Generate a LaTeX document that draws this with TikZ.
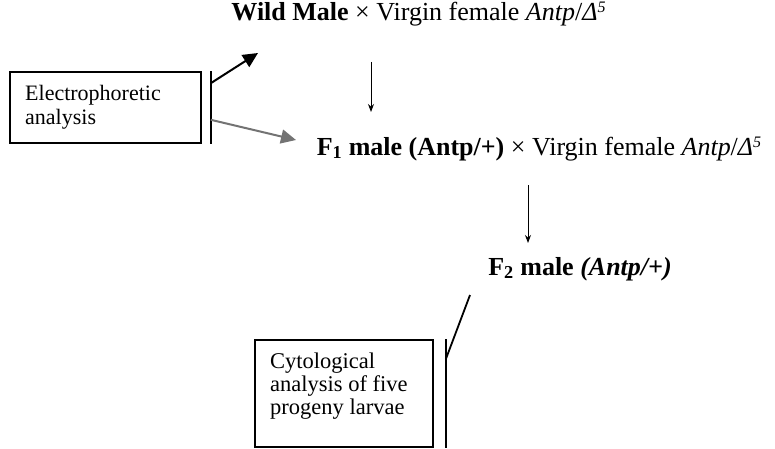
\documentclass[tikz,border=0pt]{standalone}
\usepackage{fontspec}
\setmainfont{Liberation Serif}
\usetikzlibrary{arrows.meta}
\tikzset{
  cross/.style   ={anchor=base, inner sep=0pt, font=\fontsize{26}{30}\selectfont},
  notebox/.style ={draw, line width=1.6pt, inner sep=0pt},
  notetext/.style={anchor=base west, inner sep=0pt, align=left,
                   font=\fontsize{22}{23.5}\selectfont},
  bar/.style     ={line width=1.8pt},
  downarrow/.style={-{Stealth[length=8pt,width=6pt]}, line width=0.9pt},
  bigarrow/.style={-{Triangle[length=15pt,width=14pt]}, line width=2pt},
  greyarrow/.style={bigarrow, draw=black!55, fill=black!55},
}
\newcommand{\geno}{\textit{Antp}/\textit{Δ}\raisebox{8pt}{\fontsize{16}{16}\selectfont\itshape 5}}

\begin{document}
\begin{tikzpicture}[x=1pt, y=1pt]
  \useasboundingbox (0,0) rectangle (775,448);

  % crosses
  \node[cross] (top) at (418.5,427)
    {\textbf{Wild Male} × Virgin female \geno};
  \node[cross] (f1) at (539,293)
    {\textbf{F\textsubscript{1} male (Antp/+)} × Virgin female \geno};
  \node[cross] (f2) at (580,173)
    {\textbf{F\textsubscript{2} male \textit{(Antp/+)}}};

  \draw[downarrow] ([shift={(-47.5,-41)}]top.base)
    -- ([shift={(-168,43)}]f1.base);
  \draw[downarrow] ([shift={(-11,-30)}]f1.base)
    -- ([shift={(-52,32)}]f2.base);

  % electrophoretic analysis
  \node[notebox, minimum width=191pt, minimum height=71pt] (elbox)
    at (105.5,340.5) {};
  \node[notetext] (eltext) at (25,324) {Electrophoretic\\analysis};
  \coordinate (elbarT) at ([xshift=9pt]elbox.north east);
  \coordinate (elbarB) at ([xshift=9pt]elbox.south east);
  \draw[bar] (elbarT) -- (elbarB);
  \draw[bigarrow] ([yshift=-12pt]elbarT) -- ([shift={(-160.5,-32)}]top.base);
  \draw[greyarrow] ([yshift=24pt]elbarB) -- ([shift={(-243,15)}]f1.base);

  % cytological analysis
  \node[notebox, minimum width=178pt, minimum height=107pt] (cytbox)
    at (344,54.5) {};
  \node[notetext, font=\fontsize{22.5}{23}\selectfont] (cyttext) at (270,34)
    {Cytological\\analysis of five\\progeny larvae};
  \coordinate (cybarT) at ([xshift=12pt]cytbox.north east);
  \coordinate (cybarB) at (cybarT |- 0,0);
  \draw[bar] (cybarT) -- (cybarB);
  \draw[bar] ([yshift=-20pt]cybarT) -- ([shift={(-110,-20)}]f2.base);
\end{tikzpicture}
\end{document}
